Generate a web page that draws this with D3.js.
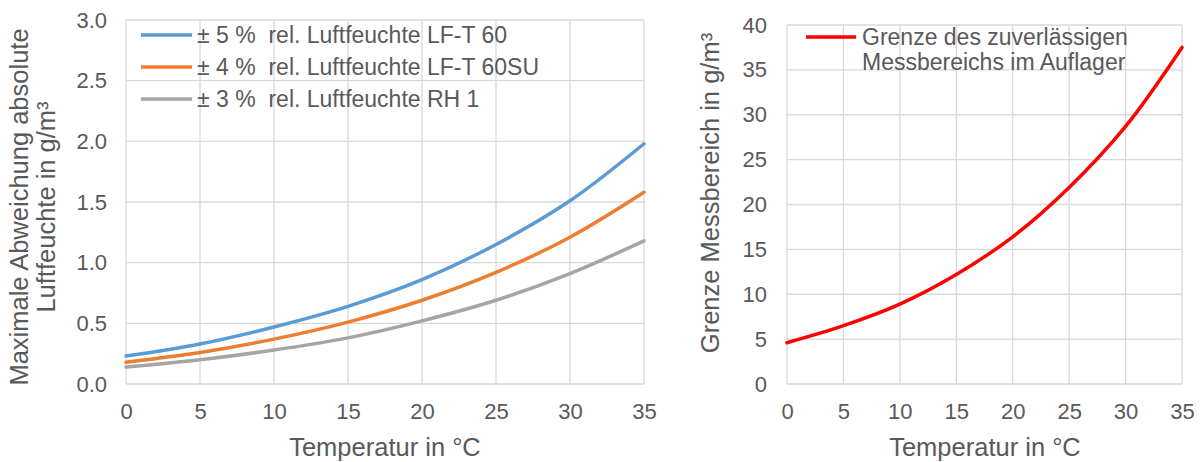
<!DOCTYPE html>
<html><head><meta charset="utf-8">
<script src="https://cdn.jsdelivr.net/npm/d3@7"></script>
<style>
body{margin:0;background:#fff;}
text{font-family:"Liberation Sans",Arial,sans-serif;fill:#595959;}
</style></head><body>
<svg id="c" width="1203" height="462"></svg>
<script>
const temps = [0,5,10,15,20,25,30,35];
const seriesLF60 = [0.23,0.33,0.47,0.64,0.86,1.15,1.51,1.98];
const seriesLF60SU = [0.18,0.26,0.37,0.51,0.69,0.92,1.21,1.58];
const seriesRH1 = [0.14,0.20,0.28,0.38,0.52,0.69,0.91,1.18];
const grenze = [4.6,6.5,8.9,12.2,16.4,21.9,28.7,37.5];
const leftYTicks = [0,0.5,1.0,1.5,2.0,2.5,3.0];
const rightYTicks = [0,5,10,15,20,25,30,35,40];
const leftNames = ["± 5 %  rel. Luftfeuchte LF-T 60","± 4 %  rel. Luftfeuchte LF-T 60SU","± 3 %  rel. Luftfeuchte RH 1"];
const rightName = ["Grenze des zuverlässigen","Messbereichs im Auflager"];

const svg = d3.select("#c");
const grid = "#d9d9d9";
const fs = 22;
const lfs = 23;
const tfs = 25.5;

function panel(x0,x1,y0,y1,yMax,yTicks,yFmt,pad){
  const x = d3.scaleLinear().domain([0,35]).range([x0,x1]);
  const y = d3.scaleLinear().domain([0,yMax]).range([y1,y0]);
  const g = svg.append("g");
  g.selectAll(".hg").data(yTicks).join("line")
    .attr("x1",x0).attr("x2",x1).attr("y1",d=>y(d)).attr("y2",d=>y(d))
    .attr("stroke",grid).attr("stroke-width",1.3);
  g.selectAll(".vg").data(temps).join("line")
    .attr("x1",d=>x(d)).attr("x2",d=>x(d)).attr("y1",y0).attr("y2",y1)
    .attr("stroke",grid).attr("stroke-width",1.3);
  const ya = d3.axisLeft(y).tickValues(yTicks).tickFormat(yFmt).tickSize(0).tickPadding(pad);
  const yg = g.append("g").attr("transform",`translate(${x0},0)`).call(ya);
  yg.select(".domain").remove();
  yg.selectAll("text").style("font-size",fs+"px").attr("fill","#595959").attr("font-family",null);
  const xa = d3.axisBottom(x).tickValues(temps).tickSize(0).tickPadding(19);
  const xg = g.append("g").attr("transform",`translate(0,${y1})`).call(xa);
  xg.select(".domain").remove();
  xg.selectAll("text").style("font-size",fs+"px").attr("fill","#595959");
  return {x,y,g};
}

const L = panel(126,644,20,384,3,leftYTicks,d3.format(".1f"),19);
const R = panel(787,1182,25,384,40,rightYTicks,d3.format("d"),20);
svg.selectAll("g").attr("font-family",null);

const colors = ["#5b9bd5","#ed7d31","#a5a5a5"];
const leftSeries = [seriesLF60,seriesLF60SU,seriesRH1];
const lineL = d3.line().x((d,i)=>L.x(temps[i])).y(d=>L.y(d)).curve(d3.curveCatmullRom.alpha(0.5));
leftSeries.slice().reverse().forEach((s,k)=>{
  const i = leftSeries.length-1-k;
  svg.append("path").datum(s).attr("d",lineL).attr("fill","none")
    .attr("stroke",colors[i]).attr("stroke-width",3.5).attr("stroke-linecap","round");
});
const lineR = d3.line().x((d,i)=>R.x(temps[i])).y(d=>R.y(d)).curve(d3.curveCatmullRom.alpha(0.5));
svg.append("path").datum(grenze).attr("d",lineR).attr("fill","none")
  .attr("stroke","#ff0000").attr("stroke-width",3.5).attr("stroke-linecap","round");

// legends
const legY = [35,67,99];
leftNames.forEach((n,i)=>{
  svg.append("line").attr("x1",141).attr("x2",192).attr("y1",legY[i]).attr("y2",legY[i])
    .attr("stroke",colors[i]).attr("stroke-width",3.5);
  svg.append("text").attr("x",197).attr("y",legY[i]).attr("dy","0.35em")
    .style("font-size",lfs+"px").style("white-space","pre").attr("xml:space","preserve").text(n);
});
svg.append("line").attr("x1",806).attr("x2",856).attr("y1",37).attr("y2",37)
  .attr("stroke","#ff0000").attr("stroke-width",3.5);
rightName.forEach((n,i)=>{
  svg.append("text").attr("x",862).attr("y",37+i*25).attr("dy","0.35em")
    .style("font-size",lfs+"px").text(n);
});

// axis titles
svg.append("text").attr("x",385).attr("y",447).attr("text-anchor","middle").attr("dy","0.35em")
  .style("font-size",tfs+"px").text("Temperatur in °C");
svg.append("text").attr("x",985).attr("y",447).attr("text-anchor","middle").attr("dy","0.35em")
  .style("font-size",tfs+"px").text("Temperatur in °C");
svg.append("text").attr("transform","translate(19,207) rotate(-90)").attr("text-anchor","middle").attr("dy","0.35em")
  .style("font-size",tfs+"px").text("Maximale Abweichung absolute");
svg.append("text").attr("transform","translate(46,207) rotate(-90)").attr("text-anchor","middle").attr("dy","0.35em")
  .style("font-size",tfs+"px").text("Luftfeuchte in g/m³");
svg.append("text").attr("transform","translate(710,193) rotate(-90)").attr("text-anchor","middle").attr("dy","0.35em")
  .style("font-size",tfs+"px").text("Grenze Messbereich in g/m³");
</script>
</body></html>
